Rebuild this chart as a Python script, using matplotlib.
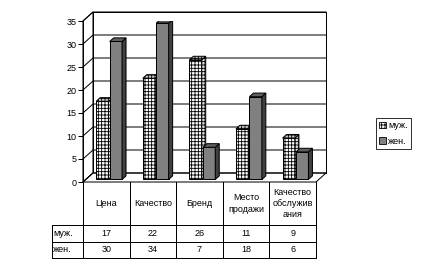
import matplotlib
matplotlib.use("Agg")
import matplotlib.pyplot as plt
from matplotlib.patches import Polygon, Patch
from matplotlib.lines import Line2D

# ---- data ----
categories = ["Цена", "Качество", "Бренд", "Место\nпродажи", "Качество\nобслужив\nания"]
series_names = ["муж.", "жен."]
men = [17, 22, 26, 11, 9]
women = [30, 34, 7, 18, 6]
yticks = [0, 5, 10, 15, 20, 25, 30, 35]

plt.rcParams['font.family'] = ['Liberation Sans', 'DejaVu Sans']
plt.rcParams['font.size'] = 6
plt.rcParams['hatch.linewidth'] = 0.6

W, H = 423, 271
fig = plt.figure(figsize=(W / 100, H / 100), dpi=100)

# front plane in pixels
px_l, px_r, px_b, px_t = 83, 316, 182, 21
ax = fig.add_axes([px_l / W, 1 - px_b / H, (px_r - px_l) / W, (px_b - px_t) / H])
ncat = len(categories)
ymax = 35
ax.set_xlim(0, ncat)
ax.set_ylim(0, ymax)

ux = (px_r - px_l) / ncat      # px per category
uy = (px_b - px_t) / ymax      # px per value unit
DX = 10 / ux                   # depth offset (data units)
DY = 9 / uy

lw = 0.72
kw = dict(clip_on=False, lw=lw, color='black')

# walls
ax.add_patch(Polygon([(DX, DY), (ncat + DX, DY), (ncat + DX, ymax + DY), (DX, ymax + DY)],
                     closed=True, facecolor='white', edgecolor='black', lw=lw, clip_on=False, zorder=0))
ax.add_patch(Polygon([(0, 0), (DX, DY), (DX, ymax + DY), (0, ymax)],
                     closed=True, facecolor='white', edgecolor='black', lw=lw, clip_on=False, zorder=0))
ax.add_patch(Polygon([(0, 0), (ncat, 0), (ncat + DX, DY), (DX, DY)],
                     closed=True, facecolor='white', edgecolor='black', lw=lw, clip_on=False, zorder=0))
for v in yticks:
    ax.add_line(Line2D([0, DX, ncat + DX], [v, v + DY, v + DY], zorder=1, **kw))

# bars
t0, t1 = 0.28, 0.68
bw, gap = 0.265, 0.025
styles = [
    dict(front='white', side='#e0e0e0', top='#c8c8c8', hatch='+++++'),
    dict(front='#808080', side='#404040', top='#606060', hatch=None),
]
for i in range(ncat):
    for s, vals in enumerate([men, women]):
        v = vals[i]
        st = styles[s]
        sx, sy = t0 * DX, t0 * DY
        bx, by = (t1 - t0) * DX, (t1 - t0) * DY
        c = i + 0.5 + sx
        x0 = c - gap / 2 - bw if s == 0 else c + gap / 2
        x1 = x0 + bw
        z = 3 + i * 2 + s
        ax.bar(x0, v, width=bw, bottom=sy, align='edge', facecolor=st['front'],
               edgecolor='black', lw=lw, hatch=st['hatch'], zorder=z)
        ax.add_patch(Polygon([(x1, sy), (x1 + bx, sy + by), (x1 + bx, v + sy + by), (x1, v + sy)],
                             closed=True, facecolor=st['side'], edgecolor='black', lw=lw,
                             hatch=st['hatch'], zorder=z))
        ax.add_patch(Polygon([(x0, v + sy), (x1, v + sy), (x1 + bx, v + sy + by), (x0 + bx, v + sy + by)],
                             closed=True, facecolor=st['top'], edgecolor='black', lw=lw,
                             hatch=st['hatch'], zorder=z))

# axis
for sp in ['top', 'right', 'bottom']:
    ax.spines[sp].set_visible(False)
ax.spines['left'].set_linewidth(lw)
ax.patch.set_visible(False)
ax.set_xticks([])
ax.set_yticks(yticks)
ax.tick_params(axis='y', length=3.5, width=lw, pad=1, labelsize=6.5)

# data table
row_px = [182, 225, 242, 258]
rows = [-(p - px_b) / uy for p in row_px]
xl = (52 - px_l) / ux
ax.add_line(Line2D([0, 0], [0, rows[3]], **kw))
ax.add_line(Line2D([ncat, ncat], [0, rows[3]], **kw))
for k in range(1, ncat):
    ax.add_line(Line2D([k, k], [0, rows[3]], **kw))
ax.add_line(Line2D([xl, ncat], [rows[1], rows[1]], **kw))
ax.add_line(Line2D([xl, ncat], [rows[2], rows[2]], **kw))
ax.add_line(Line2D([xl, ncat], [rows[3], rows[3]], **kw))
ax.add_line(Line2D([xl, xl], [rows[1], rows[3]], **kw))

for i, cat in enumerate(categories):
    ax.text(i + 0.5, (rows[0] + rows[1]) / 2, cat, ha='center', va='center',
            fontsize=6.5, linespacing=1.35, clip_on=False)
    ax.text(i + 0.5, (rows[1] + rows[2]) / 2, str(men[i]), ha='center', va='center',
            fontsize=6.5, clip_on=False)
    ax.text(i + 0.5, (rows[2] + rows[3]) / 2, str(women[i]), ha='center', va='center',
            fontsize=6.5, clip_on=False)
for r, name in enumerate(series_names):
    ax.text(xl + 0.03, (rows[r + 1] + rows[r + 2]) / 2, name, ha='left', va='center',
            fontsize=6.5, clip_on=False)

# legend
handles = [Patch(facecolor='white', edgecolor='black', hatch='+++++', lw=0.6),
           Patch(facecolor='#808080', edgecolor='black', lw=0.6)]
leg = fig.legend(handles, series_names, loc='center', bbox_to_anchor=(393.5 / W, 1 - 133.5 / H),
                 fontsize=6.5, frameon=True, fancybox=False, handlelength=0.75, handleheight=0.75,
                 handletextpad=0.25, borderpad=0.35, labelspacing=0.75, borderaxespad=0)
leg.get_frame().set_edgecolor('black')
leg.get_frame().set_linewidth(lw)

fig.savefig("out.png", dpi=100)
